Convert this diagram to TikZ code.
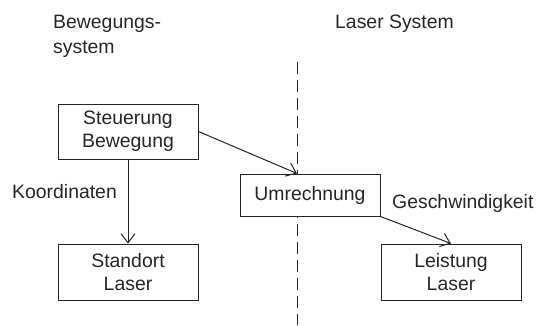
\documentclass[tikz,border=0pt]{standalone}
\usepackage{fontspec}
\setmainfont{Liberation Sans}
\usetikzlibrary{arrows.meta}
\begin{document}
\begin{tikzpicture}[x=1pt,y=-1pt,
  every node/.style={font=\fontsize{19.4}{23}\selectfont, text=black!85},
  box/.style={draw=black!85, fill=white, line width=1pt, minimum width=140pt, inner sep=0pt, align=center},
  lbl/.style={anchor=base west, inner sep=0pt},
  conn/.style={draw=black!85, line width=1pt, -{Straight Barb[length=9pt,width=14pt,line width=1pt]}},
  sep/.style={draw=black!85, line width=1pt, dash pattern=on 12pt off 6pt}]
\useasboundingbox (0,0) rectangle (537,325);
% separator
\coordinate (dtop) at (297,62);
\coordinate (dbot) at (297,325);
\draw[sep] (dtop) -- (dbot);
% headings
\node[lbl] (h1) at (53,28) {Bewegungs-};
\node[lbl] (h2) at (53,53) {system};
\node[lbl] (h3) at (335,28) {Laser System};
% boxes
\node[box, minimum height=55pt] (st) at (128,131.5) {Steuerung\\Bewegung};
\node[box, minimum height=56pt] (sl) at (128,272) {Standort\\Laser};
\node[box, minimum height=42pt] (um) at (310,195) {Umrechnung};
\node[box, minimum height=56pt] (ll) at (451,272) {Leistung\\Laser};
% labels
\node[lbl] (k) at (12,198) {Koordinaten};
\node[lbl] (g) at (392,208) {Geschwindigkeit};
% connectors
\draw[conn] (st.east) -- (um.north -| dtop);
\draw[conn] (st.south) -- (sl.north);
\draw[conn] (um.south east) -- (ll.north);
\end{tikzpicture}
\end{document}
